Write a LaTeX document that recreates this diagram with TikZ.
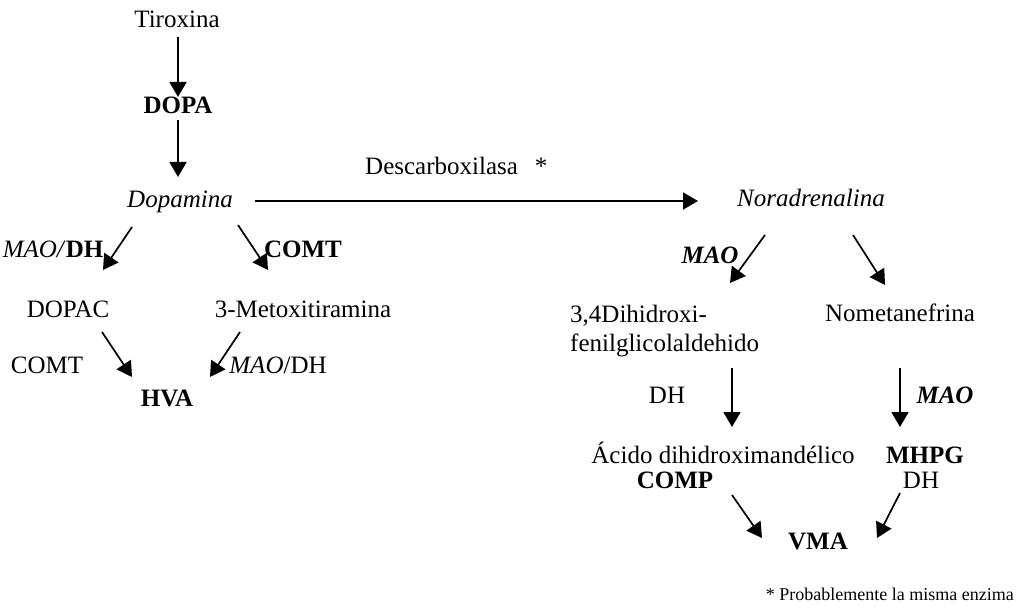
\documentclass[tikz,border=0pt]{standalone}
\usepackage{fontspec}
\setmainfont{Liberation Serif}
\usetikzlibrary{arrows.meta}

\newcommand{\bigtxt}{\fontsize{25}{29}\selectfont}
\newcommand{\notetxt}{\fontsize{18}{21}\selectfont}

\tikzset{
  lbl/.style={inner sep=0pt, anchor=base, font=\bigtxt},
  arr/.style={line width=1.7pt, -{Triangle[length=15pt, width=17pt]}},
}

\begin{document}
\begin{tikzpicture}[x=1pt, y=-1pt]
    \useasboundingbox (0,0) rectangle (1019,609);
    % dopamina branch
    \node[lbl] (tiroxina) at (177,28) {Tiroxina};
    \node[lbl] (dopa) at (178,114) {\textbf{DOPA}};
    \node[lbl] (dopamina) at (180,208) {\textit{Dopamina}};
    \node[lbl] (maodh) at (53,258) {\textit{MAO/}\textbf{DH}};
    \node[lbl] (comtb) at (303,258) {\textbf{COMT}};
    \node[lbl] (dopac) at (68,317) {DOPAC};
    \node[lbl] (metox) at (303,317) {3-Metoxitiramina};
    \node[lbl] (comt) at (47,373) {COMT};
    \node[lbl] (maodhb) at (278,373) {\textit{MAO}/DH};
    \node[lbl] (hva) at (167,406) {\textbf{HVA}};
    % noradrenalina branch
    \node[lbl, anchor=base west] (descarb) at (365,175) {Descarboxilasa\hspace{17pt}*};
    \node[lbl] (noradr) at (811,207) {\textit{Noradrenalina}};
    \node[lbl] (maoa) at (710,264) {\textbf{\textit{MAO}}};
    \node[lbl, anchor=north west, align=left] (dihidroxi) at (570,305)
      {3,4Dihidroxi-\\fenilglicolaldehido};
    \node[lbl] (nometan) at (900,322) {Nometanefrina};
    \node[lbl] (dha) at (667,403) {DH};
    \node[lbl] (maob) at (945,403) {\textbf{\textit{MAO}}};
    \node[lbl] (acido) at (723,463) {Ácido dihidroximandélico};
    \node[lbl] (mhpg) at (925,463) {\textbf{MHPG}};
    \node[lbl] (comp) at (675,488) {\textbf{COMP}};
    \node[lbl] (dhb) at (921,488) {DH};
    \node[lbl] (vma) at (818,549) {\textbf{VMA}};
    \node[lbl, anchor=base east, font=\notetxt] (nota) at (1014,600)
      {* Probablemente la misma enzima};
    % arrows
    \draw[arr] ([shift={(1,9)}]tiroxina.base) -- ([shift={(0,-17)}]dopa.base);
    \draw[arr] ([shift={(0,6)}]dopa.base) -- ([shift={(-2,-31)}]dopamina.base);
    \draw[arr] ([shift={(75,-7)}]dopamina.base) -- ([shift={(-113,-6)}]noradr.base);
    \draw[arr] ([shift={(-48,19)}]dopamina.base) -- ([shift={(35,-47)}]dopac.base);
    \draw[arr] ([shift={(58,17)}]dopamina.base) -- ([shift={(-35,-47)}]metox.base);
    \draw[arr] ([shift={(34,15)}]dopac.base) -- ([shift={(-35,-29)}]hva.base);
    \draw[arr] ([shift={(-63,15)}]metox.base) -- ([shift={(43,-29)}]hva.base);
    \draw[arr] ([shift={(-46,28)}]noradr.base) -- ([shift={(160,-22)}]dihidroxi.north west);
    \draw[arr] ([shift={(42,28)}]noradr.base) -- ([shift={(-15,-37)}]nometan.base);
    \draw[arr] ([shift={(162,63)}]dihidroxi.north west) -- ([shift={(9,-36)}]acido.base);
    \draw[arr] ([shift={(0,46)}]nometan.base) -- ([shift={(-25,-36)}]mhpg.base);
    \draw[arr] ([shift={(57,7)}]comp.base) -- ([shift={(-56,-11)}]vma.base);
    \draw[arr] ([shift={(-21,5)}]dhb.base) -- ([shift={(59,-11)}]vma.base);
\end{tikzpicture}
\end{document}
